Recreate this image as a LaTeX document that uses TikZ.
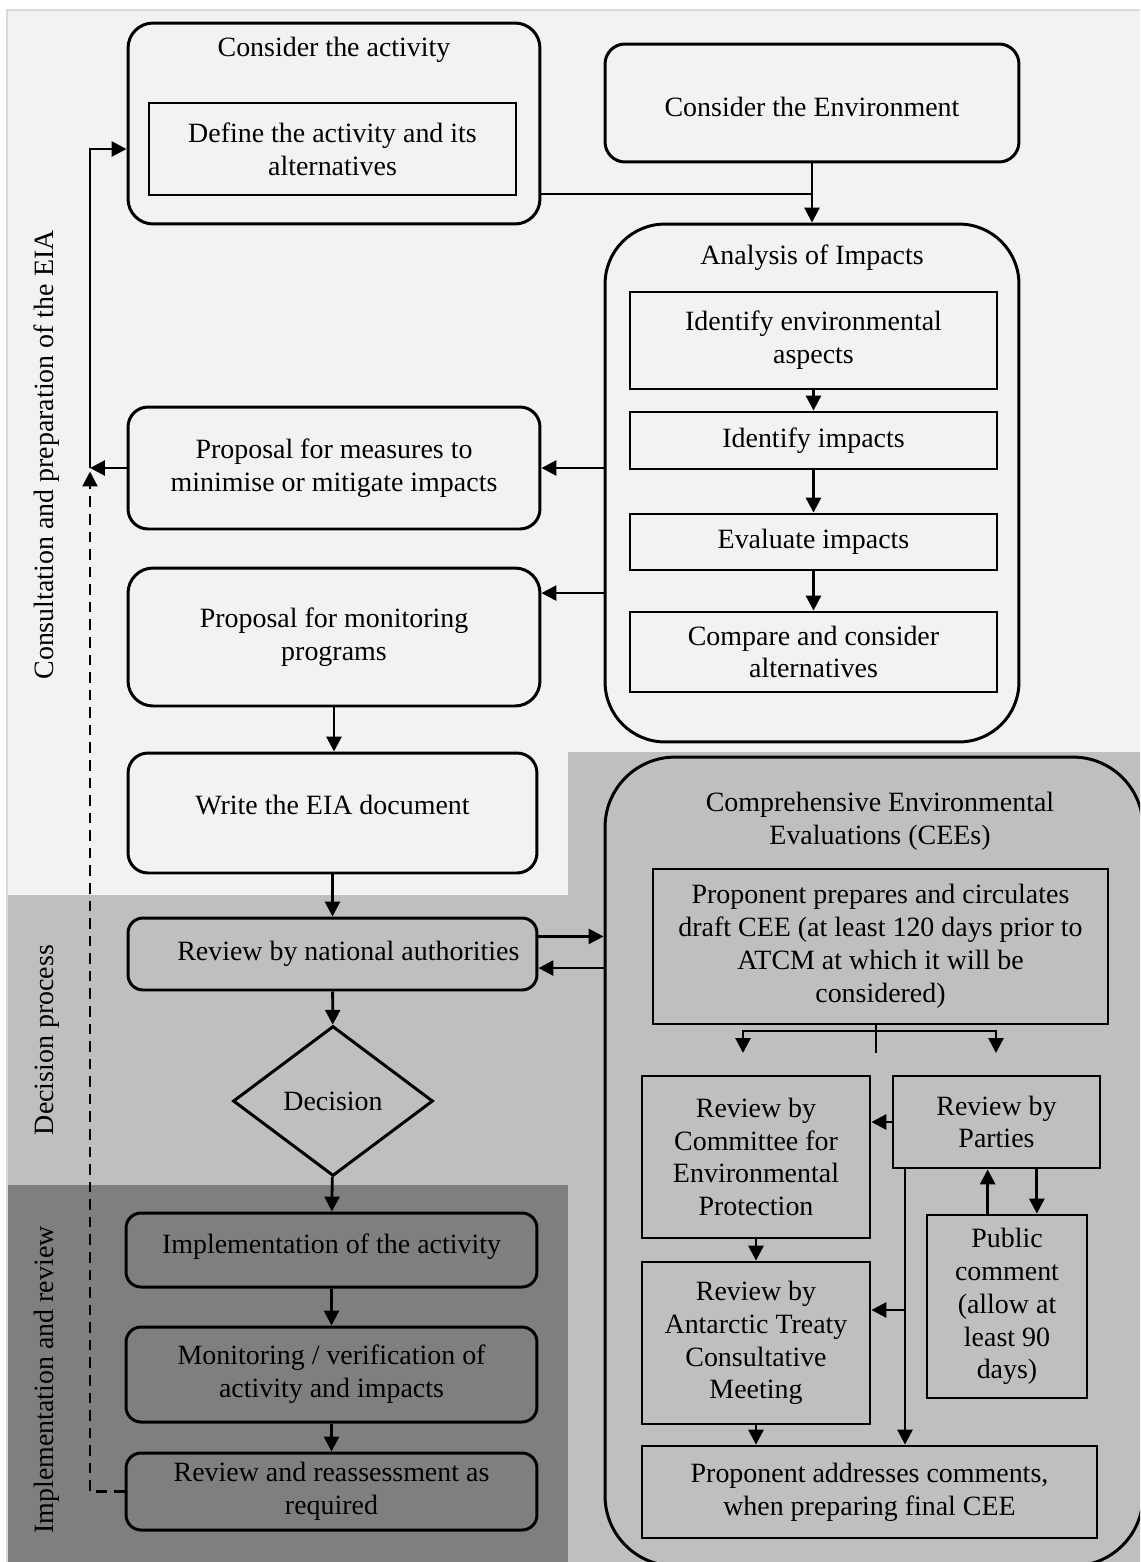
\documentclass[tikz,border=0pt]{standalone}
\usepackage{fontspec}
\setmainfont{Liberation Serif}
\usepackage{xcolor}
\usepackage{tikz}
\usetikzlibrary{arrows.meta}
\usetikzlibrary{shapes.geometric,positioning}
\definecolor{bglight}{HTML}{F2F2F2}
\definecolor{bgmid}{HTML}{BFBFBF}
\definecolor{bgdark}{HTML}{7F7F7F}
\tikzset{>={Triangle[length=8.5pt,width=8.5pt]}}
\tikzset{
    txt/.style={font=\fontsize{15.9}{18.7}\selectfont, align=center},
    roundbox/.style={txt, draw, line width=1.7pt, rounded corners=0.4cm, inner sep=0pt},
    plainbox/.style={txt, draw, line width=1.6pt, inner sep=0pt},
    link/.style={line width=1.6pt, ->},
}

\begin{document}
\begin{tikzpicture}[x=0.02cm, y=-0.02cm]
        \useasboundingbox (0,0) rectangle (1140,1562);
        \clip (0,0) rectangle (1140,1562);

        % phase bands
        \fill[bglight] (7,10) rectangle (1140,1562);
        \fill[bgmid] (7,895) -- (568,895) -- (568,752) -- (1140,752) -- (1140,1562) -- (7,1562) -- cycle;
        \fill[bgdark] (7,1185) rectangle (568,1562);
        \draw[gray!30, line width=0.6pt] (7,1562) -- (7,10) -- (1140,10);

        \node[txt, rotate=90] (lblprep) at (47,455) {Consultation and preparation of the EIA};
        \node[txt, rotate=90] (lbldec) at (47,1040) {Decision process};
        \node[txt, rotate=90] (lblimpl) at (47,1380) {Implementation and review};

        % consider the activity
        \node[roundbox, rounded corners=0.5cm, minimum width=8.24cm, minimum height=4.02cm] (act) at (334,123.5) {};
        \node[txt] (acttitle) at (334,50) {Consider the activity};
        \node[plainbox, minimum width=7.34cm, minimum height=1.84cm] (actdef) at (332.5,149) {Define the activity and its\\alternatives};

        % consider the environment
        \node[roundbox, minimum width=8.28cm, minimum height=2.36cm, text height=15pt] (env) at (812,103) {Consider the Environment};

        % analysis of impacts
        \node[roundbox, rounded corners=1.2cm, minimum width=8.28cm, minimum height=10.36cm] (ana) at (812,483) {};
        \node[txt] (anatitle) at (812,258) {Analysis of Impacts};
        \node[plainbox, minimum width=7.34cm, minimum height=1.94cm] (asp) at (813.5,340.5) {Identify environmental\\aspects};
        \node[plainbox, minimum width=7.34cm, minimum height=1.14cm] (imp) at (813.5,440.5) {Identify impacts};
        \node[plainbox, minimum width=7.34cm, minimum height=1.12cm] (eva) at (813.5,542) {Evaluate impacts};
        \node[plainbox, minimum width=7.34cm, minimum height=1.6cm] (cmp) at (813.5,652) {Compare and consider\\alternatives};

        % proposals and EIA document
        \node[roundbox, minimum width=8.24cm, minimum height=2.44cm] (mit) at (334,468) {Proposal for measures to\\minimise or mitigate impacts};
        \node[roundbox, rounded corners=0.5cm, minimum width=8.24cm, minimum height=2.76cm] (mon) at (334,637) {Proposal for monitoring\\programs};
        \node[roundbox, minimum width=8.18cm, minimum height=2.4cm, text depth=9pt] (doc) at (332.5,813) {Write the EIA document};

        % decision process
        \node[roundbox, rounded corners=0.3cm, minimum width=8.18cm, minimum height=1.44cm] (nat) at (332.5,954) {\hspace{18pt}Review by national authorities};
        \node[txt, draw, diamond, line width=1.7pt, inner sep=0pt, minimum width=4cm, minimum height=3cm] (dec) at (333,1101) {Decision};

        % implementation and review
        \node[roundbox, rounded corners=0.3cm, minimum width=8.22cm, minimum height=1.48cm, text depth=7pt] (impl) at (331.5,1250) {Implementation of the activity};
        \node[roundbox, rounded corners=0.3cm, minimum width=8.22cm, minimum height=1.9cm] (verif) at (331.5,1374.5) {Monitoring / verification of\\activity and impacts};
        \node[roundbox, rounded corners=0.3cm, minimum width=8.22cm, minimum height=1.54cm] (rev) at (331.5,1491.5) {Review and reassessment as\\required};

        % CEE
        \node[roundbox, rounded corners=1.4cm, minimum width=10.76cm, minimum height=16.18cm] (cee) at (874,1161.5) {};
        \node[txt] (ceetitle) at (880,821.5) {Comprehensive Environmental\\Evaluations (CEEs)};
        \node[plainbox, minimum width=9.1cm, minimum height=3.1cm] (draft) at (880.5,946.5) {Proponent prepares and circulates\\draft CEE (at least 120 days prior to\\ATCM at which it will be\\considered)};
        \node[plainbox, minimum width=4.56cm, minimum height=3.24cm] (cep) at (756,1157) {Review by\\Committee for\\Environmental\\Protection};
        \node[plainbox, minimum width=4.14cm, minimum height=1.84cm] (par) at (996.5,1122) {Review by\\Parties};
        \node[plainbox, minimum width=3.2cm, minimum height=3.66cm] (pub) at (1007,1306.5) {Public\\comment\\(allow at\\least 90\\days)};
        \node[plainbox, minimum width=4.56cm, minimum height=3.24cm] (atcm) at (756,1343) {Review by\\Antarctic Treaty\\Consultative\\Meeting};
        \node[plainbox, minimum width=9.1cm, minimum height=1.84cm] (fin) at (869.5,1492) {Proponent addresses comments,\\when preparing final CEE};

        % connectors, EIA side
        \coordinate (jn) at (812,194);
        \draw[line width=0.9pt] (act.east |- jn) -- (jn);
        \draw[link] (env) -- (ana);
        \draw[link] (asp) -- (imp);
        \draw[link] (imp) -- (eva);
        \draw[link] (eva) -- (cmp);
        \coordinate (monin) at ([yshift=25pt]mon.east);
        \draw[link] (ana.west |- mit) -- (mit);
        \draw[link] (ana.west |- monin) -- (monin);

        % feedback loop
        \coordinate (loop) at (90,468);
        \draw[link] (mit) -- (loop);
        \draw[link] (loop) |- (actdef -| act.west);
        \draw[->, line width=1.3pt, dash pattern=on 6pt off 4pt] (rev) -| ([yshift=-2pt]loop);

        \draw[link] (mon.south) -- (mon.south |- doc.north);
        \draw[link] (doc) -- (nat);
        \coordinate (natout) at ([yshift=10pt]nat.east);
        \coordinate (natin) at ([yshift=-8pt]nat.east);
        \draw[link] (natout) -- (natout -| cee.west);
        \draw[link] (natin -| cee.west) -- (natin);
        \draw[link] (nat) -- (dec);
        \draw[link] (dec) -- (impl);
        \draw[link] (impl) -- (verif);
        \draw[link] (verif) -- (rev);

        % connectors, CEE side
        \coordinate (brh) at (876,1031);
        \coordinate (brm) at (876,1053);
        \coordinate (brl) at (743,1053);
        \coordinate (brr) at (996,1053);
        \draw[line width=1.6pt] (draft.south -| brm) -- (brm);
        \draw[link] (brh) -| (brl);
        \draw[link] (brh) -| (brr);
        \draw[link] (par.west) -- (par.west -| cep.east);
        \coordinate (pubup) at ([xshift=-11pt]pub.north);
        \coordinate (pubdn) at ([xshift=17pt]pub.north);
        \draw[link] (pubup) -- (pubup |- par.south);
        \draw[link] (pubdn |- par.south) -- (pubdn);
        \coordinate (pv) at (905,1310);
        \draw[link] (pv |- par.south) -- (pv |- fin.north);
        \draw[link] (pv) -- (pv -| atcm.east);
        \draw[link] (cep) -- (atcm);
        \draw[link] (atcm) -- (atcm |- fin.north);
\end{tikzpicture}
\end{document}
